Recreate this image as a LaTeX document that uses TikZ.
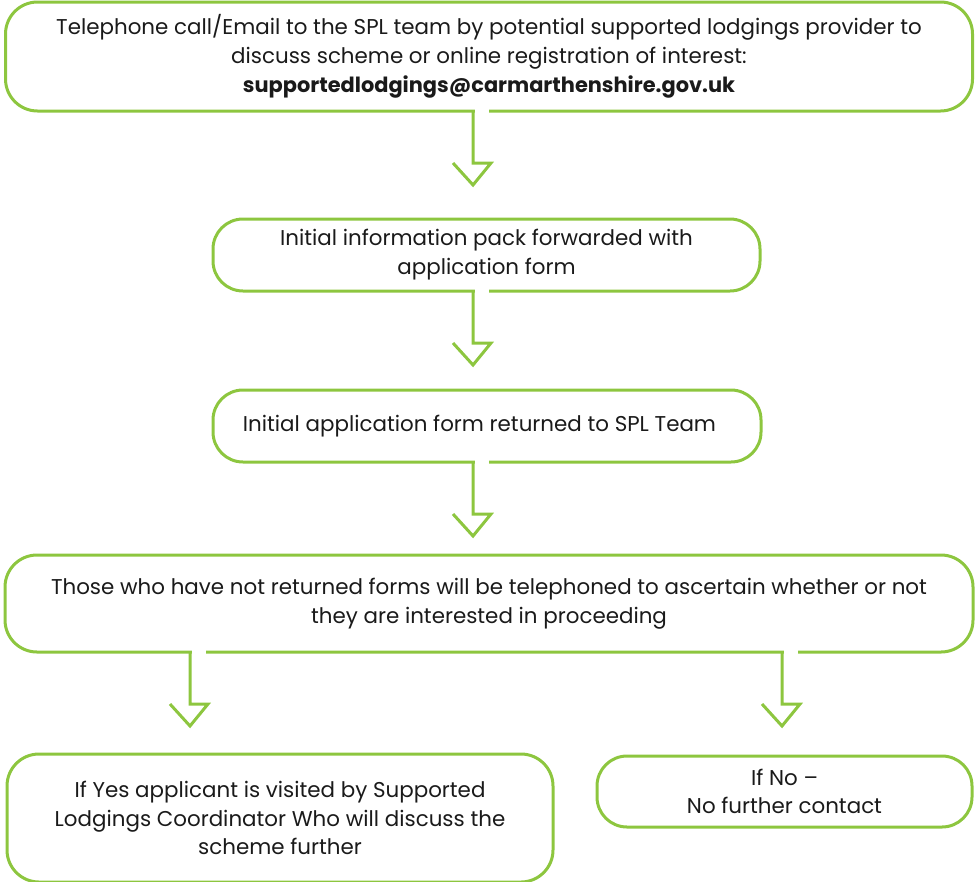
\documentclass[tikz,border=0pt]{standalone}
\usepackage{fontspec}
\setmainfont{Poppins}
\usetikzlibrary{calc}
\definecolor{lime}{RGB}{141,198,63}
\definecolor{ink}{RGB}{26,26,26}
\tikzset{
  box/.style={draw=lime, line width=3pt, rounded corners=32pt, outer sep=0pt,
    inner sep=0pt, align=center, text=ink, font=\fontsize{21.4}{28.8}\selectfont},
  arr/.style={draw=lime, line width=3pt, line join=miter, line cap=butt},
  gap/.style={draw=white, line width=5pt, line cap=butt},
}
\begin{document}
\begin{tikzpicture}[x=1pt,y=-1pt]
\useasboundingbox (0,0) rectangle (979,881);
\clip (0,0) rectangle (979,881);
\node[box, minimum width=967pt, minimum height=109pt] (b1) at (489,56.5)
  {Telephone call/Email to the SPL team by potential supported lodgings provider to\\
   discuss scheme or online registration of interest:\\
   {\fontsize{20.9}{28.8}\selectfont\textbf{supportedlodgings@carmarthenshire.gov.uk}}};
\node[box, minimum width=547pt, minimum height=72pt, rounded corners=30pt] (b2) at (486.5,255)
  {Initial information pack forwarded with\\ application form};
\node[box, minimum width=548pt, minimum height=72pt, rounded corners=30pt] (b3) at (487,426)
  {\hspace*{-15pt}Initial application form returned to SPL Team};
\node[box, minimum width=968pt, minimum height=97pt] (b4) at (489,603.5)
  {Those who have not returned forms will be telephoned to ascertain whether or not\\
   they are interested in proceeding};
\node[box, minimum width=546pt, minimum height=128pt] (b5) at (280,818)
  {If Yes applicant is visited by Supported\\ Lodgings Coordinator Who will discuss the\\ scheme further};
\node[box, minimum width=375pt, minimum height=71pt, rounded corners=30pt] (b6) at (784.5,791.5)
  {If No --\\ No further contact};
% shaft positions
\coordinate (s1) at (473,0);
\coordinate (s4a) at (190,0);
\coordinate (s4b) at (782,0);
% arrows
\foreach \b/\s in {b1/s1, b2/s1, b3/s1, b4/s4a, b4/s4b}{
  \draw[gap] ($(\b.south -| \s)+(1.6,0)$) -- ++(14,0);
  \draw[arr] (\b.south -| \s) -- ++(0,52) -- ++(18,0) -- ++(-18,22) coordinate (tip-\s-\b) -- ++(-20,-22);
}
\end{tikzpicture}
\end{document}
